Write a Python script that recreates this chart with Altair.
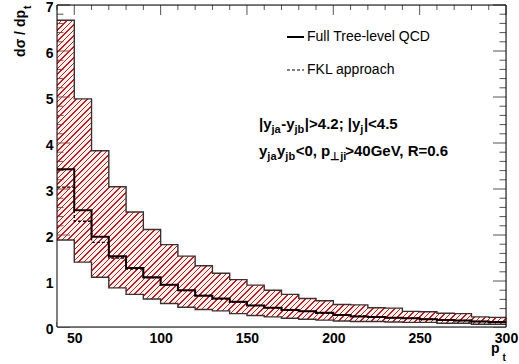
import altair as alt
import pandas as pd

# ---------------- data ----------------
pt_low_edges = [40, 50, 60, 70, 80, 90, 100, 110, 120, 130, 140, 150, 160,
                170, 180, 190, 200, 210, 220, 230, 240, 250, 260, 270, 280, 290]
pt_max = 300
band_high = [6.67, 4.96, 3.83, 3.05, 2.50, 2.12, 1.79, 1.54, 1.33, 1.17, 1.03, 0.91, 0.80,
             0.71, 0.62, 0.57, 0.49, 0.48, 0.42, 0.41, 0.34, 0.33, 0.30, 0.29, 0.22, 0.21]
band_low = [1.89, 1.41, 1.08, 0.85, 0.71, 0.61, 0.51, 0.43, 0.38, 0.35, 0.29, 0.25, 0.22,
            0.19, 0.17, 0.15, 0.13, 0.12, 0.12, 0.11, 0.10, 0.10, 0.08, 0.08, 0.06, 0.06]
full_qcd = [3.43, 2.54, 1.96, 1.54, 1.28, 1.08, 0.92, 0.80, 0.68, 0.62, 0.55, 0.47, 0.42,
            0.37, 0.34, 0.31, 0.26, 0.23, 0.22, 0.20, 0.19, 0.17, 0.15, 0.14, 0.12, 0.11]
fkl = [3.04, 2.30, 1.84, 1.50, 1.26, 1.07, 0.92, 0.79, 0.69, 0.61, 0.54, 0.47, 0.42,
       0.38, 0.34, 0.30, 0.27, 0.24, 0.22, 0.20, 0.19, 0.17, 0.16, 0.14, 0.12, 0.11]

x_label_values = [50, 100, 150, 200, 250, 300]
x_minor_values = [40, 60, 70, 80, 90, 110, 120, 130, 140, 160, 170, 180, 190, 210, 220,
                  230, 240, 260, 270, 280, 290]
y_label_values = [0, 1, 2, 3, 4, 5, 6, 7]
y_minor_values = [round(i * 0.2, 1) for i in range(36) if i % 5 != 0]

legend_labels = ["Full Tree-level QCD", "FKL approach"]
y_title_main, y_title_sub = "d\u03c3 / dp", "t"
x_title_main, x_title_sub = "p", "t"
note_line1 = [("|y", 0), ("ja", 1), ("-y", 0), ("jb", 1), ("|>4.2; |y", 0), ("j", 1), ("|<4.5", 0)]
note_line2 = [("y", 0), ("ja", 1), ("y", 0), ("jb", 1), ("<0, p", 0), ("\u22a5ji", 1),
              (">40GeV, R=0.6", 0)]

# ---------------- layout / style ----------------
W, H = 449, 322
FONT = "Liberation Sans"
x_scale = alt.Scale(domain=[40, 300], nice=False, zero=False)
y_scale = alt.Scale(domain=[0, 7], nice=False, zero=False)
x_axis = alt.Axis(values=x_label_values, ticks=False, domain=False, grid=False, title=None,
                  labelFlush=False, labelPadding=4, labelFontSize=14, labelFontWeight="bold",
                  labelFont=FONT, labelColor="black", labelOverlap=False)
y_axis = alt.Axis(values=y_label_values, ticks=False, domain=False, grid=False, title=None,
                  labelFlush=False, labelPadding=4, labelOffset=2, labelFontSize=14,
                  labelFontWeight="bold", labelFont=FONT, labelColor="black", labelOverlap=False)

hist = pd.DataFrame({
    "pt": pt_low_edges + [pt_max],
    "hi": band_high + [band_high[-1]],
    "lo": band_low + [band_low[-1]],
    "full": full_qcd + [full_qcd[-1]],
    "fkl": fkl + [fkl[-1]],
})
hist["zero"] = 0.0


def hatch_fill(w, h, spacing=5.5, line=1.6, color="#ff0000"):
    k = h / w
    s = 1.2
    length = w * s * (1 + k * k)
    p = spacing / length
    f = line / spacing
    clear = "rgba(255,255,255,0)"
    stops = []
    i = 0
    while i * p < 1:
        b = i * p
        m = min(b + (1 - f) * p, 1)
        e = min(b + p, 1)
        stops += [{"offset": round(b, 5), "color": clear},
                  {"offset": round(m, 5), "color": clear},
                  {"offset": round(m, 5), "color": color},
                  {"offset": round(e, 5), "color": color}]
        i += 1
    return {"gradient": "linear", "x1": 0, "y1": 0, "x2": s, "y2": s * k, "stops": stops}


band_h_px = (max(band_high) - min(band_low)) / 7 * H
hatch = hatch_fill(W, band_h_px)

X = alt.X("pt:Q", scale=x_scale, axis=x_axis)

# ticks (drawn inward, ROOT style)
tick_color = "#555555"
ymaj = pd.DataFrame({"v": y_label_values})
ymin = pd.DataFrame({"v": y_minor_values})
xmaj = pd.DataFrame({"v": x_label_values})
xmin = pd.DataFrame({"v": x_minor_values})


def yticks(df, x0, x1):
    return alt.Chart(df).mark_rule(color=tick_color, strokeWidth=1).encode(
        y=alt.Y("v:Q", scale=y_scale, axis=y_axis), x=alt.value(x0), x2=alt.value(x1))


def xticks(df, y0, y1):
    return alt.Chart(df).mark_rule(color=tick_color, strokeWidth=1).encode(
        x=alt.X("v:Q", scale=x_scale, axis=x_axis), y=alt.value(y0), y2=alt.value(y1))


ticks = [yticks(ymaj, 0, 13), yticks(ymin, 0, 6.5), yticks(ymaj, W, W - 13), yticks(ymin, W, W - 6.5),
         xticks(xmaj, 0, 10), xticks(xmin, 0, 5), xticks(xmaj, H, H - 10), xticks(xmin, H, H - 5)]

base = alt.Chart(hist)
band = base.mark_area(interpolate="step-after", fill=hatch, strokeWidth=0).encode(
    x=X, y=alt.Y("hi:Q", scale=y_scale, axis=y_axis), y2="lo:Q")
cover = base.mark_area(interpolate="step-after", fill="white", strokeWidth=0).encode(
    x=X, y=alt.Y("lo:Q", scale=y_scale, axis=y_axis), y2="zero:Q")
edge_hi = base.mark_line(interpolate="step-after", color="#333333", strokeWidth=1.4).encode(
    x=X, y=alt.Y("hi:Q", scale=y_scale, axis=y_axis))
edge_lo = base.mark_line(interpolate="step-after", color="#333333", strokeWidth=1.4).encode(
    x=X, y=alt.Y("lo:Q", scale=y_scale, axis=y_axis))
line_full = base.mark_line(interpolate="step-after", color="black", strokeWidth=2).encode(
    x=X, y=alt.Y("full:Q", scale=y_scale, axis=y_axis))
line_fkl = base.mark_line(interpolate="step-after", color="black", strokeWidth=1.4,
                          strokeDash=[3, 2]).encode(
    x=X, y=alt.Y("fkl:Q", scale=y_scale, axis=y_axis))

one = pd.DataFrame({"a": [0]})
frame = alt.Chart(one).mark_rect(fillOpacity=0, stroke="black", strokeWidth=1).encode(
    x=alt.value(0), x2=alt.value(W), y=alt.value(0), y2=alt.value(H))


def txt(s, x, y, size=14, weight="bold", align="left", baseline="alphabetic", angle=0):
    kw = dict(text=s, fontSize=size, fontWeight=weight, font=FONT, align=align,
              baseline=baseline, color="black")
    if angle:
        kw["angle"] = angle
    return alt.Chart(one).mark_text(**kw).encode(x=alt.value(x), y=alt.value(y))


# legend
leg = [
    alt.Chart(one).mark_rule(color="black", strokeWidth=2).encode(
        x=alt.value(230), x2=alt.value(247), y=alt.value(32)),
    alt.Chart(one).mark_rule(color="black", strokeWidth=1.2, strokeDash=[3, 2]).encode(
        x=alt.value(230), x2=alt.value(247), y=alt.value(65)),
    txt(legend_labels[0], 250, 32, weight="normal", baseline="middle"),
    txt(legend_labels[1], 250, 65, weight="normal", baseline="middle"),
]

# annotation with subscripts
BOLD_W = {"|": 280, "y": 556, "j": 278, "a": 556, "b": 611, "-": 333, ">": 584, "<": 584,
          ".": 278, ";": 333, " ": 278, ",": 278, "p": 611, "G": 778, "e": 556, "V": 667,
          "R": 722, "=": 584, "i": 278, "\u22a5": 760}


def seg_width(s, size):
    return sum(BOLD_W.get(c, 556) for c in s) * size / 1000.0


def note_layers(segs, x0, y0, size=15, sub=11, drop=4):
    out = []
    x = x0
    for s, is_sub in segs:
        fs = sub if is_sub else size
        out.append(txt(s, x, y0 + (drop if is_sub else 0), size=fs))
        x += seg_width(s, fs) + (0.5 if is_sub else 0)
    return out


notes = note_layers(note_line1, 202, 124) + note_layers(note_line2, 202, 151)

titles = [
    txt(y_title_main, -32, 5, angle=270, align="right"),
    txt(y_title_sub, -26, 4, size=10, angle=270, align="left"),
    txt(x_title_main, 434, 348),
    txt(x_title_sub, 445.5, 356, size=10),
]

chart = alt.layer(
    *ticks, band, cover, edge_hi, edge_lo, line_full, line_fkl, frame, *leg, *notes, *titles
).properties(
    width=W, height=H, autosize="none",
    padding={"left": 57, "top": 5, "right": 13, "bottom": 37},
).configure_view(strokeWidth=0).configure(background="white")

chart.save("out.html", embed_options={"renderer": "svg", "actions": False})
